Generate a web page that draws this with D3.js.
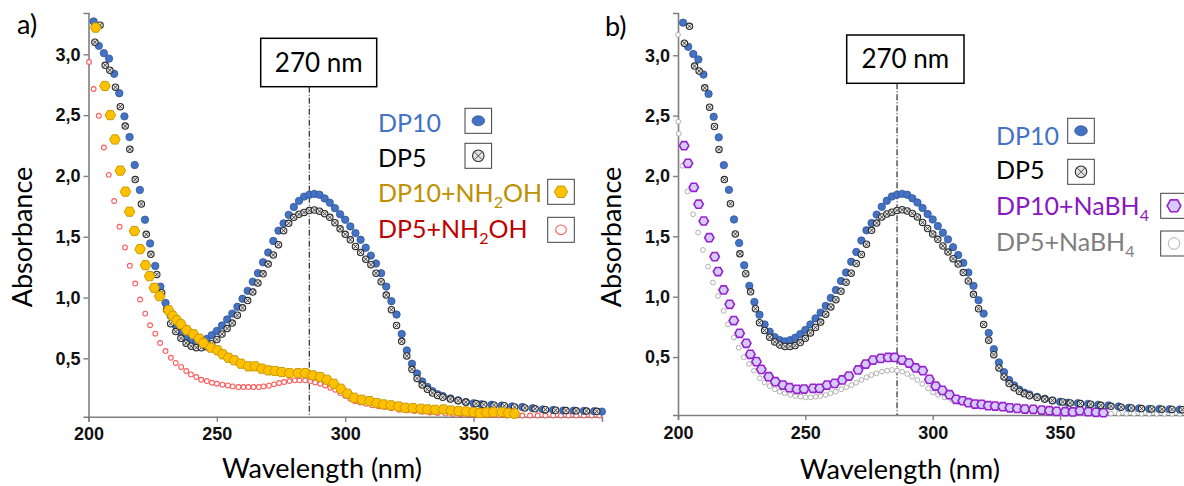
<!DOCTYPE html>
<html><head><meta charset="utf-8">
<script src="https://cdn.jsdelivr.net/npm/d3@7"></script>
<style>body{margin:0;background:#fff}svg{display:block}</style>
</head><body><svg id="c" width="1184" height="486"></svg>
<script>
// ---------- data (wavelength nm, absorbance) ----------
const dp10 = [[202,3.27],[204,3.07],[206,3.01],[208,2.965],[210,2.84],[212,2.68],[214,2.49],[216,2.32],[218,2.09],[220,1.885],
[222,1.64],[224,1.445],[226,1.26],[228,1.09],[230,0.956],[232,0.85],[234,0.77],[236,0.71],[238,0.665],[240,0.64],
[242,0.63],[244,0.64],[246,0.66],[248,0.69],[250,0.725],[252,0.77],[254,0.82],[256,0.868],[258,0.924],[260,0.99],
[262,1.055],[264,1.13],[266,1.2],[268,1.29],[270,1.37],[272,1.465],[274,1.55],[276,1.61],[278,1.68],[280,1.745],
[282,1.795],[284,1.83],[286,1.845],[288,1.852],[290,1.845],[292,1.815],[294,1.78],[296,1.735],[298,1.685],[300,1.64],
[302,1.585],[304,1.53],[306,1.475],[308,1.41],[310,1.345],[312,1.28],[314,1.2],[316,1.09],[318,0.97],[320,0.86],
[322,0.7],[324,0.565],[326,0.455],[328,0.375],[330,0.31],[332,0.265],[334,0.23],[336,0.205],[338,0.19],
[341,0.17],[344,0.155],[347,0.14],[350,0.13],[353,0.122],[357,0.118],[361,0.112],[365,0.105],[369,0.1],[373,0.09],
[377,0.08],[381,0.075],[385,0.071],[389,0.07],[393,0.068],[397,0.065],[400,0.062]];

const dp5 = [[202.5,3.10],[204.5,3.24],[206.5,2.91],[208.3,2.87],[210.5,2.73],[212.4,2.57],[214.3,2.41],[216.1,2.22],[218.2,1.97],[220.6,1.77],
[222.5,1.52],[224.3,1.355],[226.6,1.19],[228.5,1.04],[230.4,0.9],[232,0.785],[234,0.72],[236,0.665],[238,0.625],[240,0.6],
[242,0.588],[244,0.588],[246,0.595],[248,0.62],[250,0.655],[252,0.7],[254,0.745],[256,0.79],[258,0.855],[260,0.915],
[262,0.975],[264,1.045],[266,1.12],[268,1.195],[270,1.275],[272,1.35],[274,1.435],[276,1.55],[278,1.61],[280,1.66],
[282,1.685],[284,1.7],[286,1.715],[288,1.72],[290,1.71],[292,1.69],[294,1.66],[296,1.615],[298,1.565],[300,1.52],
[302,1.475],[304,1.42],[306,1.37],[308,1.315],[310,1.27],[312,1.2],[314,1.13],[316,1.02],[318,0.9],[320,0.77],
[322,0.64],[324,0.52],[326,0.41],[328,0.335],[330,0.28],[332,0.245],[334,0.215],[336,0.195],[338,0.18],[341,0.165],
[344,0.152],[347,0.14],[351,0.128],[354,0.12],[358,0.115],[362,0.11],[366,0.1],[370,0.092],[374,0.085],[378,0.078],
[382,0.073],[386,0.07],[390,0.068],[394,0.066],[398,0.064]];

const dp10NH2OH = [[202.8,3.22],[206.4,2.74],[208.5,2.50],[210.3,2.30],[212.4,2.044],[214.4,1.871],[216,1.706],[217.9,1.547],[220.1,1.398],[222.2,1.266],
[223.8,1.176],[225.6,1.08],[227.7,1.011],[231.2,0.896],[232.8,0.85],[234.4,0.813],[236,0.78],[238.3,0.731],[240.9,0.698],[243.1,0.662],
[244.8,0.626],[247.7,0.588],[250.3,0.566],[252.3,0.533],[254.5,0.505],[256.8,0.484],[259.4,0.456],[262.3,0.434],[264.9,0.434],[267.5,0.415],
[270.1,0.401],[272.7,0.396],[275.3,0.387],[278.3,0.379],[281.6,0.379],[284.4,0.379],[287.4,0.36],[290.3,0.346],[292.9,0.324],[295.5,0.291],
[298.3,0.25],[300.9,0.209],[303.5,0.176],[306.5,0.159],[309.5,0.148],[312.3,0.132],[314.9,0.121],[317.8,0.113],[320.8,0.104],[323.4,0.093],
[326.4,0.091],[329.5,0.085],[332.1,0.08],[335.1,0.077],[338.3,0.08],[341.2,0.071],[344.2,0.066],[347.1,0.063],[350,0.058],[352.5,0.05],
[355,0.055],[357.7,0.057],[361,0.057],[363.5,0.05],[366,0.046]];

const dp5NH2OH = [[200.2,2.937],[202,2.715],[204,2.495],[206,2.234],[207.9,2.009],[210,1.794],[212.1,1.582],[214.2,1.412],[216.1,1.261],[218.2,1.115],
[220.1,0.984],[222.1,0.868],[224,0.772],[226,0.703],[227.9,0.626],[230,0.56],[232.1,0.505],[234,0.462],[236.1,0.429],[238.1,0.396],
[239.9,0.368],[242,0.346],[243.9,0.324],[246.1,0.313],[248.1,0.299],[250,0.291],[252.2,0.283],[254.3,0.277],[256.2,0.269],[258.4,0.264],
[260.4,0.264],[262.3,0.264],[264.3,0.264],[266.4,0.264],[268.2,0.269],[270.3,0.275],[272.3,0.286],[274.3,0.297],[276.2,0.305],[278.3,0.313],
[280.4,0.319],[282.2,0.319],[284.4,0.319],[286.4,0.313],[288.3,0.302],[290.3,0.291],[292.2,0.277],[294.2,0.258],[296.1,0.242],[298.1,0.214],
[300,0.192],[302,0.168],[303.9,0.148],[305.8,0.137],[308,0.126],[310.5,0.115],[313,0.105],[315.5,0.099],[318,0.09],[321,0.077],
[324,0.072],[327,0.066],[330,0.06],[333,0.055],[336,0.05],[339,0.046],[342,0.043],[345,0.04],[348,0.038],[351,0.036],
[354,0.034],[357,0.032],[360,0.031],[363,0.03],[366,0.03],[369,0.03],[372,0.03],[375,0.03],[378,0.03],[381,0.03],
[384,0.03],[387,0.03],[390,0.03],[393,0.03],[396,0.03],[399,0.03]];

const dp10NaBH4 = [[202.4,2.251],[203.9,2.105],[206.2,1.906],[208.1,1.766],[210.1,1.627],[212.3,1.489],[214.4,1.332],[215.7,1.208],[217.9,1.056],[220.3,0.937],
[221.9,0.802],[224.2,0.697],[226.8,0.614],[228.4,0.523],[230.8,0.462],[232.7,0.398],[235.6,0.337],[238.2,0.296],[241.2,0.268],[243.8,0.246],
[246.7,0.233],[249.5,0.235],[253,0.241],[255.6,0.241],[258.5,0.268],[261.5,0.282],[264.5,0.31],[267.1,0.343],[270.7,0.393],[273.7,0.442],
[276.6,0.475],[279.6,0.489],[282.5,0.497],[285.1,0.497],[288,0.475],[290.7,0.45],[293.3,0.41],[296.1,0.387],[298.7,0.315],[301.2,0.26],
[303.8,0.224],[306.6,0.188],[309.2,0.15],[311.8,0.138],[314,0.122],[316.6,0.111],[319.2,0.108],[321.8,0.097],[324.5,0.094],[327.5,0.089],
[330.3,0.08],[333.2,0.075],[336.2,0.069],[339.5,0.067],[342.8,0.061],[345.8,0.056],[348.7,0.05],[352,0.047],[355,0.045],[357.8,0.056],
[361.1,0.047],[364.1,0.042],[367,0.039]];

const dp5NaBH4 = [[200,3.17],[200.1,2.45],[200.3,2.35],[201.7,2.085],[203.7,1.871],[205.9,1.683],[207.9,1.531],[209.8,1.387],[211.8,1.249],[213.7,1.117],
[215.7,1.006],[217.9,0.882],[219.6,0.771],[221.9,0.661],[223.8,0.578],[225.8,0.498],[227.9,0.442],[229.8,0.387],[232.1,0.324],[234,0.288],
[236,0.26],[238,0.233],[239.9,0.213],[241.9,0.2],[244.1,0.186],[246.1,0.177],[248.2,0.172],[250.1,0.166],[252.1,0.166],[254.1,0.172],
[256,0.177],[258,0.186],[259.9,0.2],[261.9,0.213],[264.1,0.233],[266.1,0.249],[268.1,0.268],[270,0.288],[272,0.31],[274,0.332],
[275.9,0.351],[277.9,0.365],[280.1,0.379],[282.1,0.387],[284,0.393],[286,0.387],[288,0.379],[290,0.36],[292,0.337],[294,0.31],
[295.9,0.277],[298.2,0.241],[300.1,0.208],[302.1,0.186],[304.7,0.166],[307.3,0.15],[310,0.13],[313,0.115],[316,0.105],[319,0.095],
[322,0.088],[325,0.08],[328,0.075],[331,0.068],[334,0.062],[337,0.057],[340,0.052],[343,0.048],[346,0.045],[349,0.042],
[352,0.04],[355,0.038],[358,0.036],[361,0.035],[364,0.034],[367,0.033],[370,0.032],[373,0.032],[376,0.031],[379,0.031],
[382,0.03],[385,0.03],[388,0.03],[391,0.03],[394,0.03],[397,0.03],[400,0.03]];

const xTicks = [200, 250, 300, 350];
const yTicks = [0.5, 1.0, 1.5, 2.0, 2.5, 3.0];
const xDomain = [200, 400];
const markerWavelength = 286;
const markerLabel = "270 nm";
const xTitle = "Wavelength (nm)";
const yTitle = "Absorbance";

// ---------- styles ----------
const FONT = "Lato, 'Open Sans', sans-serif";
const TICKFONT = "'Liberation Sans', Arial, sans-serif";
const AXIS = "#7f7f7f";

function hexPath(r){
  const p=[];
  for(let i=0;i<6;i++){const a=Math.PI/3*i;p.push([r*Math.cos(a), r*Math.sin(a)]);}
  return "M"+p.map(d=>d[0].toFixed(2)+","+d[1].toFixed(2)).join("L")+"Z";
}

const styles = {
  dp10: (g, s)=>g.append("ellipse").attr("rx",3.7*s.rx).attr("ry",3.7*s.ry).attr("fill","#4472c4").attr("stroke","#2f5597").attr("stroke-width",0.8),
  dp5: (g, s)=>{
    const r=3.2*s.rx;
    g.append("circle").attr("r",r).attr("fill","#e4e4e4").attr("stroke","#2b2b2b").attr("stroke-width",1.1);
    const k=r*0.62;
    g.append("path").attr("d",`M${-k},${-k}L${k},${k}M${-k},${k}L${k},${-k}`).attr("stroke","#2b2b2b").attr("stroke-width",0.8);
  },
  hexY: (g, s)=>g.append("path").attr("d",hexPath(5.3*s.rx)).attr("fill","#ffc000").attr("stroke","#c99a00").attr("stroke-width",1),
  circR: (g, s)=>g.append("ellipse").attr("rx",2.4*s.rx).attr("ry",2.4*s.ry).attr("fill","#fff").attr("stroke","#ff5b5b").attr("stroke-width",1.1),
  hexP: (g, s)=>g.append("path").attr("d",hexPath(4.7*s.rx)).attr("fill","#d4ccff").attr("stroke","#9622cc").attr("stroke-width",1.6),
  circG: (g, s)=>g.append("circle").attr("r",2.4*s.rx).attr("fill","#fff").attr("stroke","#b0b0b0").attr("stroke-width",1)
};

const panels = [
  { tag:"a)", tagX:17, tagY:34,
    xr:[88.5, 601.9], yr:[416.7, 13], yd:[0.02, 3.34],
    boxX:[260.7,376.7], boxY:[38.3,86.7], boxTextY:71.5,
    ytitleX:32, ytitleY:237, xtitleX:322, xtitleY:478,
    series:[ {data:dp5NH2OH, st:"circR"}, {data:dp10, st:"dp10"}, {data:dp5, st:"dp5"}, {data:dp10NH2OH, st:"hexY"} ],
    legend:[
      {parts:[["DP10"]], color:"#4472c4", tx:378, ty:131.5, bx:465, by:108.3, st:"dp10", ms:{rx:1.7,ry:1.35}},
      {parts:[["DP5"]], color:"#000", tx:378, ty:166.5, bx:465, by:143.3, st:"dp5", ms:{rx:1.8,ry:1.8}},
      {parts:[["DP10+NH"],["2","sub"],["OH"]], color:"#bf9000", tx:378, ty:201.5, bx:547.7, by:179.3, st:"hexY", ms:{rx:1.25,ry:1.25}},
      {parts:[["DP5+NH"],["2","sub"],["OH"]], color:"#c00000", tx:378, ty:238, bx:547.7, by:217.3, st:"circR", ms:{rx:2.2,ry:2.0}}
    ]},
  { tag:"b)", tagX:605, tagY:36,
    xr:[678, 1187.4], yr:[415, 13], yd:[0.02, 3.35],
    boxX:[846.7,964], boxY:[35,83.3], boxTextY:68.3,
    ytitleX:621, ytitleY:237, xtitleX:900, xtitleY:479,
    series:[ {data:dp5NaBH4, st:"circG"}, {data:dp10NaBH4, st:"hexP"}, {data:dp10, st:"dp10"}, {data:dp5, st:"dp5"} ],
    legend:[
      {parts:[["DP10"]], color:"#4472c4", tx:996, ty:145, bx:1067.7, by:118.3, st:"dp10", ms:{rx:1.7,ry:1.35}},
      {parts:[["DP5"]], color:"#000", tx:996, ty:179, bx:1067.7, by:159.3, st:"dp5", ms:{rx:1.8,ry:1.8}},
      {parts:[["DP10+NaBH"],["4","sub"]], color:"#8a17c0", tx:996, ty:215, bx:1160.7, by:193.3, st:"hexP", ms:{rx:1.45,ry:1.45}},
      {parts:[["DP5+NaBH"],["4","sub"]], color:"#7f7f7f", tx:996, ty:251, bx:1160.7, by:231, st:"circG", ms:{rx:2.4,ry:2.4}}
    ]}
];

const svg = d3.select("#c");
svg.append("rect").attr("width",1184).attr("height",486).attr("fill","#fff");

panels.forEach(p=>{
  const x = d3.scaleLinear().domain(xDomain).range(p.xr);
  const y = d3.scaleLinear().domain(p.yd).range(p.yr);
  const g = svg.append("g");

  // axes
  const xa = g.append("g").attr("transform",`translate(0,${p.yr[0]})`)
    .call(d3.axisBottom(x).tickValues(xTicks).tickSize(5).tickPadding(6).tickFormat(d3.format("d")));
  const ya = g.append("g").attr("transform",`translate(${p.xr[0]},0)`)
    .call(d3.axisLeft(y).tickValues(yTicks).tickSize(5).tickPadding(3).tickFormat(d=>d3.format(".1f")(d).replace(".",",")));
  [xa,ya].forEach(a=>{
    a.select(".domain").attr("stroke",AXIS).attr("stroke-width",1.6);
    a.selectAll(".tick line").attr("stroke",AXIS).attr("stroke-width",1.4);
    a.selectAll(".tick text").attr("fill","#111").attr("font-family",TICKFONT).attr("font-weight","bold").attr("font-size",18);
  });

  // marker line + box
  const mx = x(markerWavelength);
  g.append("line").attr("x1",mx).attr("x2",mx).attr("y1",p.boxY[1]).attr("y2",p.yr[0])
    .attr("stroke","#000").attr("stroke-width",1).attr("stroke-dasharray","6,2,1,2");
  g.append("rect").attr("x",p.boxX[0]).attr("y",p.boxY[0]).attr("width",p.boxX[1]-p.boxX[0]).attr("height",p.boxY[1]-p.boxY[0])
    .attr("fill","#fff").attr("stroke","#000").attr("stroke-width",1.5);
  g.append("text").attr("x",(p.boxX[0]+p.boxX[1])/2).attr("y",p.boxTextY).attr("text-anchor","middle")
    .attr("font-family",FONT).attr("font-size",26).attr("fill","#000").text(markerLabel);

  // series
  p.series.forEach(s=>{
    g.append("g").selectAll("g").data(s.data).join("g")
      .attr("transform",d=>`translate(${x(d[0])},${y(d[1])})`)
      .each(function(){ styles[s.st](d3.select(this), {rx:1, ry:1}); });
  });

  // titles
  g.append("text").attr("transform",`translate(${p.ytitleX},${p.ytitleY}) rotate(-90)`).attr("text-anchor","middle")
    .attr("font-family",FONT).attr("font-size",27).attr("fill","#000").text(yTitle);
  g.append("text").attr("x",p.xtitleX).attr("y",p.xtitleY).attr("text-anchor","middle")
    .attr("font-family",FONT).attr("font-size",27).attr("fill","#000").text(xTitle);
  g.append("text").attr("x",p.tagX).attr("y",p.tagY).attr("font-family",FONT).attr("font-size",27).attr("fill","#000").text(p.tag);

  // legend
  p.legend.forEach(l=>{
    const t = g.append("text").attr("x",l.tx).attr("y",l.ty).attr("font-family",FONT).attr("font-size",25).attr("fill",l.color);
    l.parts.forEach(pt=>{
      const ts = t.append("tspan").text(pt[0]);
      if(pt[1]==="sub") ts.attr("font-size",16).attr("dy",6);
      else if(t.selectAll("tspan").size()>1) ts.attr("dy",-6);
    });
    const bw=26.6, bh=25;
    g.append("rect").attr("x",l.bx).attr("y",l.by).attr("width",bw).attr("height",bh).attr("fill","#fff").attr("stroke","#404040").attr("stroke-width",1);
    const mg = g.append("g").attr("transform",`translate(${l.bx+bw/2},${l.by+bh/2})`);
    styles[l.st](mg, l.ms);
  });
});
</script></body></html>
